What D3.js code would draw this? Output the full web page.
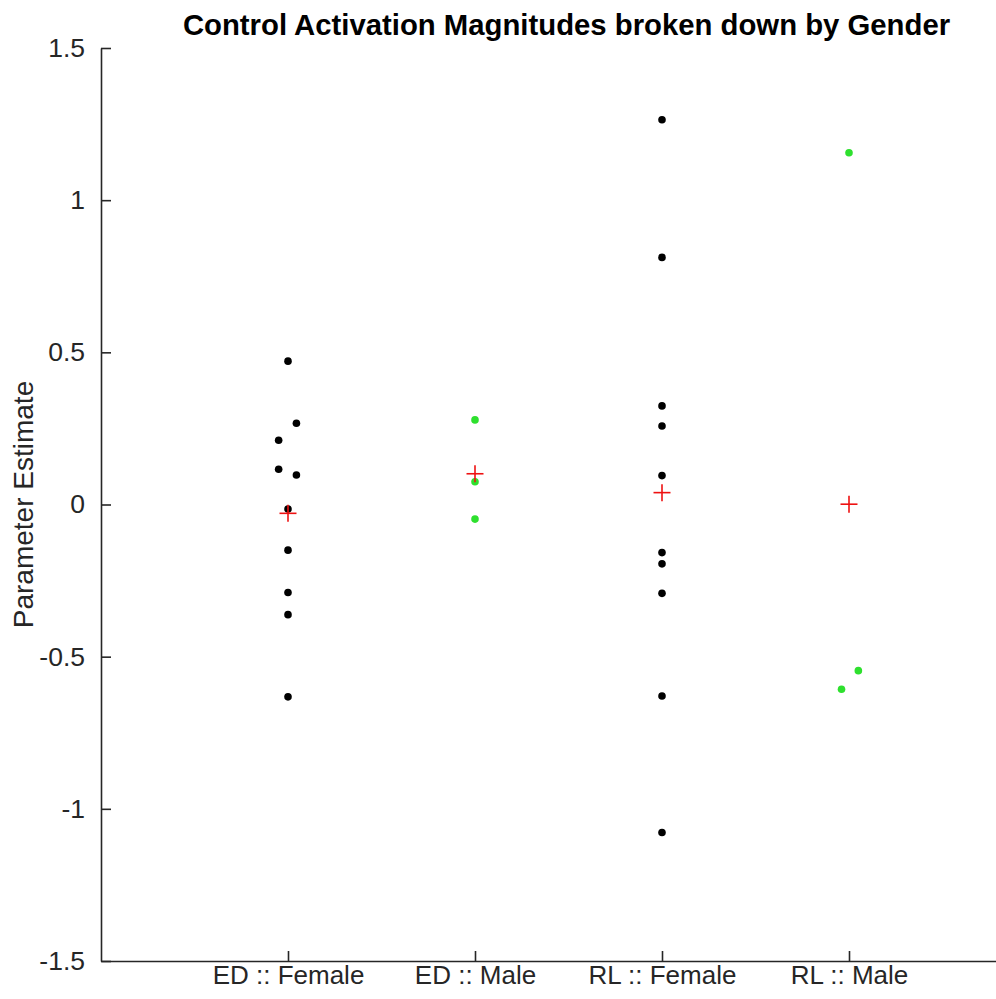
<!DOCTYPE html>
<html>
<head>
<meta charset="utf-8">
<script src="https://cdn.jsdelivr.net/npm/d3@7"></script>
<style>
  html, body { margin: 0; padding: 0; background: #fff; }
  svg { display: block; font-family: "Liberation Sans", Arial, Helvetica, sans-serif; }
</style>
</head>
<body>
<svg id="chart" width="996" height="999"></svg>
<script>
// ---- data ----
const categories = ["ED :: Female", "ED :: Male", "RL :: Female", "RL :: Male"];
const groupColor = ["black", "green", "black", "green"];

const edFemale = [0.471, 0.267, 0.211, 0.116, 0.097, -0.015, -0.150, -0.289, -0.362, -0.632];
const edFemaleJitter = [0, 0.045, -0.05, -0.05, 0.045, 0, 0, 0, 0, 0];

const edMale = [0.278, 0.075, -0.048];
const edMaleJitter = [0, 0, 0];

const rlFemale = [1.264, 0.812, 0.324, 0.258, 0.095, -0.158, -0.195, -0.292, -0.629, -1.078];
const rlFemaleJitter = [0, 0, 0, 0, 0, 0, 0, 0, 0, 0];

const rlMale = [1.156, -0.546, -0.607];
const rlMaleJitter = [0, 0.05, -0.04];

const groupMeans = [-0.029, 0.101, 0.039, 0.001];

const yTicks = [-1.5, -1, -0.5, 0, 0.5, 1, 1.5];
const yTickLabels = ["-1.5", "-1", "-0.5", "0", "0.5", "1", "1.5"];

const chartTitle = "Control Activation Magnitudes broken down by Gender";
const yLabel = "Parameter Estimate";

(function () {
// ---- layout ----
const svg = d3.select("#chart");
const mLeft = 101, mRight = 1036, mTop = 48, mBottom = 961;

const x = d3.scaleLinear().domain([0, 5]).range([mLeft, mRight]);
const y = d3.scaleLinear().domain([-1.5, 1.5]).range([mBottom, mTop]);

const colors = { black: "#000000", green: "#2ee02e" };
const axisColor = "#262626";
const fontFam = "Liberation Sans, Arial, sans-serif";

const groups = [
  { vals: edFemale, jit: edFemaleJitter },
  { vals: edMale, jit: edMaleJitter },
  { vals: rlFemale, jit: rlFemaleJitter },
  { vals: rlMale, jit: rlMaleJitter }
];

// ---- axes ----
const yAxis = d3.axisLeft(y)
  .tickValues(yTicks)
  .tickFormat((d, i) => yTickLabels[i])
  .tickSizeInner(-10)
  .tickSizeOuter(0)
  .tickPadding(16);

const gy = svg.append("g").attr("transform", `translate(${mLeft},0)`).call(yAxis);
gy.select(".domain").attr("stroke", axisColor).attr("stroke-width", 1.6);
gy.selectAll(".tick line").attr("stroke", axisColor).attr("stroke-width", 1.6);
gy.selectAll(".tick text")
  .attr("font-size", 26.5).attr("fill", "#262626")
  .attr("font-family", fontFam);

const xAxis = d3.axisBottom(x)
  .tickValues([1, 2, 3, 4])
  .tickFormat((d) => categories[d - 1])
  .tickSizeInner(-10)
  .tickSizeOuter(0)
  .tickPadding(5);

const gx = svg.append("g").attr("transform", `translate(0,${mBottom})`).call(xAxis);
gx.select(".domain").attr("stroke", axisColor).attr("stroke-width", 1.6);
gx.selectAll(".tick line").attr("stroke", axisColor).attr("stroke-width", 1.6);
gx.selectAll(".tick text")
  .attr("font-size", 26).attr("fill", "#262626")
  .attr("font-family", fontFam);

// ---- points ----
groups.forEach((g, gi) => {
  svg.append("g").selectAll("circle")
    .data(g.vals.map((v, i) => ({ v, j: g.jit[i] })))
    .join("circle")
    .attr("cx", d => x(gi + 1 + d.j))
    .attr("cy", d => y(d.v))
    .attr("r", 3.8)
    .attr("fill", colors[groupColor[gi]]);
});

// ---- means (red plus markers) ----
const half = 8.5;
const means = svg.append("g").selectAll("g")
  .data(groupMeans.map((m, i) => ({ m, i })))
  .join("g")
  .attr("transform", d => `translate(${x(d.i + 1)},${y(d.m)})`);
means.append("line").attr("x1", -half).attr("x2", half).attr("y1", 0).attr("y2", 0)
  .attr("stroke", "#ee1111").attr("stroke-width", 1.6);
means.append("line").attr("x1", 0).attr("x2", 0).attr("y1", -half).attr("y2", half)
  .attr("stroke", "#ee1111").attr("stroke-width", 1.6);

// ---- title & labels ----
svg.append("text")
  .attr("x", (mLeft + mRight) / 2 - 2)
  .attr("y", 35)
  .attr("text-anchor", "middle")
  .attr("font-size", 29.3)
  .attr("font-weight", "bold")
  .attr("font-family", fontFam)
  .attr("fill", "#000")
  .text(chartTitle);

svg.append("text")
  .attr("transform", `translate(33,${(mTop + mBottom) / 2}) rotate(-90)`)
  .attr("text-anchor", "middle")
  .attr("font-size", 28)
  .attr("font-family", fontFam)
  .attr("fill", "#262626")
  .text(yLabel);
})();
</script>
</body>
</html>
